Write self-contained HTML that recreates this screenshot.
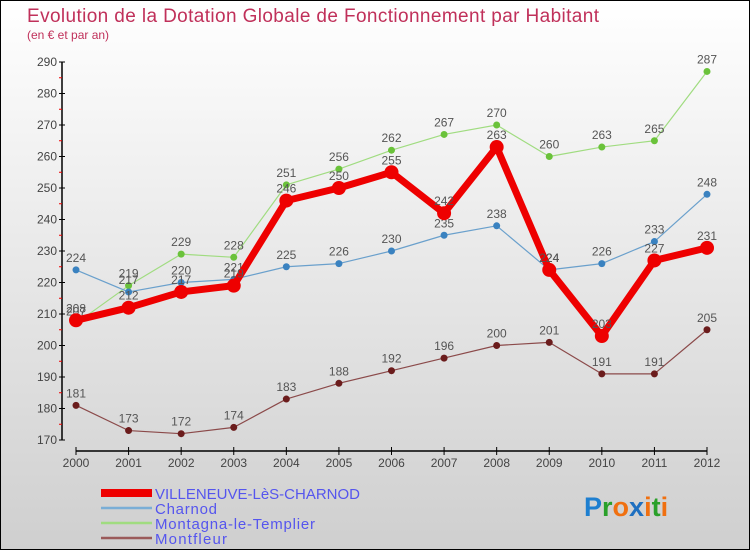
<!DOCTYPE html>
<html><head><meta charset="utf-8"><style>
html,body{margin:0;padding:0}
body{width:750px;height:550px;overflow:hidden;font-family:"Liberation Sans",sans-serif}
#c{position:absolute;left:0;top:0;width:748px;height:548px;border:1px solid #000;background:linear-gradient(#ffffff,#cfcfcf)}
</style></head><body>
<div id="c">
<svg id="s" width="748" height="548"></svg>
</div>
<script>
const years=["2000","2001","2002","2003","2004","2005","2006","2007","2008","2009","2010","2011","2012"];
const villeneuve=[208,212,217,219,246,250,255,242,263,224,203,227,231];
const charnod=[224,217,220,221,225,226,230,235,238,224,226,233,248];
const montagna=[207,219,229,228,251,256,262,267,270,260,263,265,287];
const montfleur=[181,173,172,174,183,188,192,196,200,201,191,191,205];
const yTicks=[170,180,190,200,210,220,230,240,250,260,270,280,290];
const NS="http://www.w3.org/2000/svg";
const s=document.getElementById('s');
const X=i=>75+i*(706-75)/(years.length-1);
const Y=v=>439-(v-170)*(439-61)/120;
function mk(t,a,p){const e=document.createElementNS(NS,t);for(const k in a)e.setAttribute(k,a[k]);(p||s).appendChild(e);return e;}
function txt(x,y,str,a){const e=mk('text',Object.assign({x:x,y:y,'font-size':12,fill:'#555'},a));e.textContent=str;return e;}
let t=txt(26,21,"Evolution de la Dotation Globale de Fonctionnement par Habitant",{'font-size':19,fill:'#c0305a','textLength':572});

t=txt(26,38,"(en € et par an)",{'font-size':12,fill:'#c0305a'});

let ya=mk('line',{x1:61,y1:Y(290),x2:61,y2:Y(170),stroke:'#000','stroke-width':1.5});

yTicks.forEach((v,i)=>{mk('line',{x1:58,y1:Y(v),x2:64,y2:Y(v),stroke:'#000'});
 let l=txt(56,Y(v)+4,v,{'text-anchor':'end','font-size':12,fill:'#444'});
 
 if(i<yTicks.length-1)mk('line',{x1:58,y1:Y(v+5),x2:61,y2:Y(v+5),stroke:'#e00'});});
let xa=mk('line',{x1:75,y1:450,x2:706,y2:450,stroke:'#000','stroke-width':1.5});

years.forEach((y,i)=>{mk('line',{x1:X(i),y1:446,x2:X(i),y2:454,stroke:'#000'});
 let l=txt(X(i),466,y,{'text-anchor':'middle','font-size':12,fill:'#444'});
 });
function series(data,color,dot,w,r,name){
 const g=mk('g',{});
 mk('polyline',{points:data.map((v,i)=>X(i)+','+Y(v)).join(' '),fill:'none',stroke:color,'stroke-width':w,'stroke-linejoin':'round'},g);
 data.forEach((v,i)=>{const c=mk('circle',{cx:X(i),cy:Y(v),r:r,fill:dot},g);
  
  const l=txt(X(i),Y(v)-8,v,{'text-anchor':'middle','font-size':12,fill:'#555'},g);
  });
}
series(montfleur,'#8b4a4a','#6b1c1c',1.2,3.5,'montfleur');
series(montagna,'#a0dc80','#6ac23a',1.2,3.5,'montagna');
series(charnod,'#6aa0cc','#3a82c0',1.2,3.5,'charnod');
series(villeneuve,'#ee0000','#ee0000',7,7,'villeneuve');
const leg=[["VILLENEUVE-LèS-CHARNOD","#ee0000",8,205],["Charnod","#7aaed6",2.5,62],["Montagna-le-Templier","#a0dc80",2.5,160],["Montfleur","#9a5a5a",2.5,72]];
leg.forEach((e,i)=>{const g=mk('g',{});
 const y=492+i*15;mk('line',{x1:100,y1:y,x2:151,y2:y,stroke:e[1],'stroke-width':e[2]},g);
 txt(154,y+6,e[0],{'font-size':15,fill:'#5555ee',textLength:e[3]},g);});
const lg=mk('text',{x:583,y:515,'font-size':27,'font-weight':'bold','font-family':'Liberation Sans, sans-serif'});

[["P","#1e7fd0"],["r","#2aa02a"],["o","#f07010"],["x","#1e6fc0"],["i","#f07010"],["t","#2aa02a"],["i","#f07010"]].forEach(p=>{const ts=mk('tspan',{fill:p[1]},lg);ts.textContent=p[0];});
</script>
</body></html>
